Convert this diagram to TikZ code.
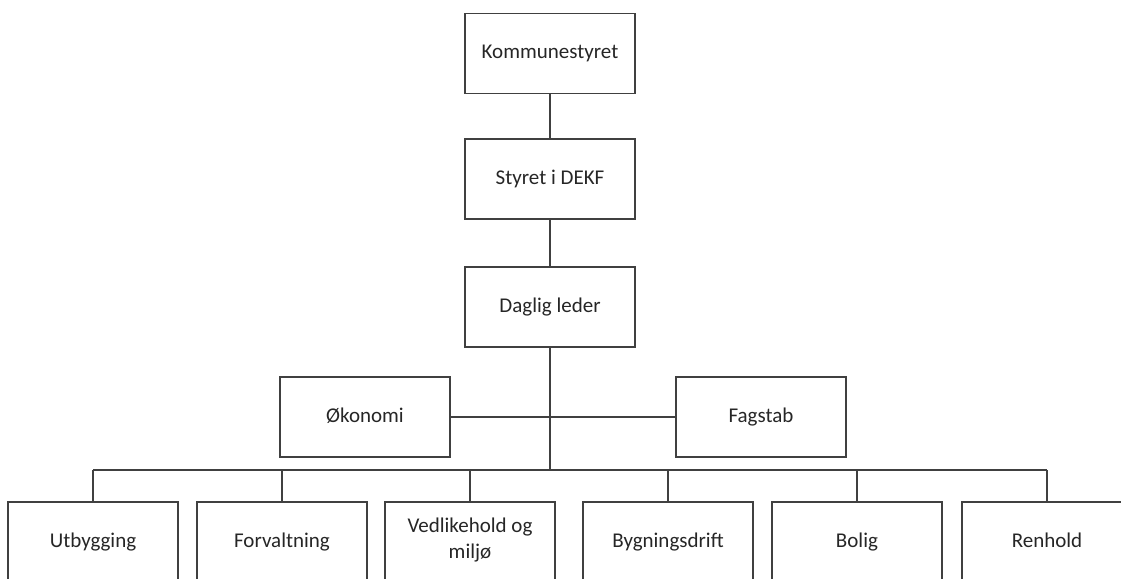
\documentclass[tikz,border=0pt]{standalone}
\usepackage{fontspec}
\setmainfont{Carlito}
\begin{document}
\begin{tikzpicture}[x=0.5pt,y=-0.5pt,
  box/.style={draw=black!75,line width=0.65pt,rectangle,minimum width=85pt,minimum height=40pt,inner sep=2pt,align=center,font=\fontsize{10.5}{13}\selectfont,text=black!85,execute at begin node=\strut},
  conn/.style={draw=black!75,line width=0.65pt}]
\useasboundingbox (0,0) rectangle (1121,579);
\node[box] (k) at (550,53.5) {Kommunestyret};
\node[box] (s) at (550,179) {Styret i DEKF};
\node[box] (d) at (550,307) {Daglig leder};
\node[box] (o) at (365,417) {Økonomi};
\node[box] (f) at (761,417) {Fagstab};
\node[box] (u1) at (93,542) {Utbygging};
\node[box] (u2) at (282,542) {Forvaltning};
\node[box] (u3) at (470,542) {Vedlikehold og\\\strut miljø};
\node[box] (u4) at (668,542) {Bygningsdrift};
\node[box] (u5) at (857,542) {Bolig};
\node[box] (u6) at (1047,542) {Renhold};
\coordinate (bus) at (550,470);
\draw[conn] (k) -- (s);
\draw[conn] (s) -- (d);
\draw[conn] (d.south) -- (bus);
\draw[conn] (o.east) -- (f.west);
\draw[conn] (u1.north |- bus) -- (u6.north |- bus);
\foreach \n in {u1,u2,u3,u4,u5,u6} \draw[conn] (\n.north |- bus) -- (\n.north);
\end{tikzpicture}
\end{document}
